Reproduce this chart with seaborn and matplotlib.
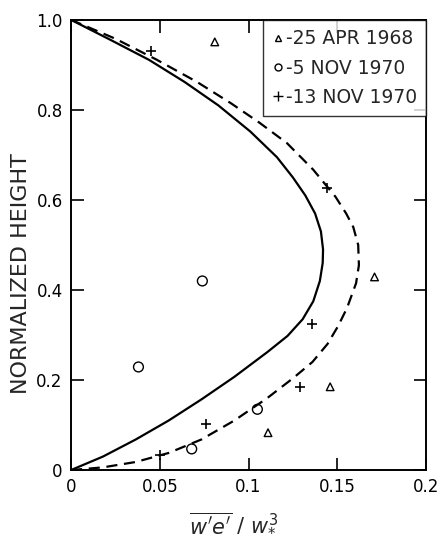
import matplotlib
matplotlib.use("Agg")
import matplotlib.pyplot as plt
from matplotlib.lines import Line2D
import seaborn as sns

# Solid curve (x = w'e'/w*^3, y = normalized height)
solid_x = [0, 0.018, 0.0365, 0.055, 0.0735, 0.092, 0.1106, 0.122, 0.1305, 0.1365,
           0.1402, 0.1418, 0.142, 0.1408, 0.1375, 0.132, 0.125, 0.116, 0.101,
           0.083, 0.064, 0.044, 0.022, 0]
solid_y = [0, 0.030, 0.068, 0.110, 0.157, 0.207, 0.262, 0.298, 0.335, 0.375,
           0.420, 0.460, 0.490, 0.530, 0.570, 0.610, 0.650, 0.695, 0.752,
           0.810, 0.862, 0.911, 0.956, 1.0]

# Dashed curve
dash_x = [0, 0.018, 0.0365, 0.055, 0.0735, 0.092, 0.1106, 0.1254, 0.136, 0.1445,
          0.1505, 0.1555, 0.1606, 0.1622, 0.1618, 0.159, 0.155, 0.149, 0.1365,
          0.1217, 0.106, 0.090, 0.071, 0.048, 0.025, 0]
dash_y = [0, 0.006, 0.018, 0.038, 0.068, 0.110, 0.160, 0.205, 0.240, 0.280,
          0.320, 0.360, 0.415, 0.455, 0.500, 0.540, 0.570, 0.607, 0.667,
          0.726, 0.772, 0.815, 0.862, 0.912, 0.958, 1.0]

# Observations
apr68_x = [0.081, 0.171, 0.146, 0.111]
apr68_y = [0.951, 0.429, 0.185, 0.083]
nov5_x = [0.038, 0.074, 0.105, 0.068]
nov5_y = [0.229, 0.420, 0.135, 0.047]
nov13_x = [0.045, 0.1444, 0.136, 0.129, 0.076, 0.050]
nov13_y = [0.930, 0.627, 0.325, 0.185, 0.102, 0.033]

labels = ["-25 APR 1968", "-5 NOV 1970", "-13 NOV 1970"]
xticks = [0, 0.05, 0.1, 0.15, 0.2]
xticklabels = ["0", "0.05", "0.1", "0.15", "0.2"]
yticks = [0, 0.2, 0.4, 0.6, 0.8, 1.0]
yticklabels = ["0", "0.2", "0.4", "0.6", "0.8", "1.0"]

sns.set_style("ticks")
plt.rcParams["font.family"] = ["DejaVu Sans"]
plt.rcParams["mathtext.fontset"] = "dejavusans"

fig = plt.figure(figsize=(4.41, 5.36), dpi=100)
ax = fig.add_axes([0.161, 0.123, 0.805, 0.840])

sns.lineplot(x=solid_x, y=solid_y, sort=False, estimator=None, color="black",
             linewidth=1.6, ax=ax)
sns.lineplot(x=dash_x, y=dash_y, sort=False, estimator=None, color="black",
             linewidth=1.6, ax=ax)
ax.lines[-1].set_dashes([5, 3])
for ln in ax.lines:
    ln.set_solid_joinstyle("round")
    ln.set_dash_joinstyle("round")

ax.scatter(apr68_x, apr68_y, marker="^", s=30, facecolors="none", edgecolors="black", linewidths=1.0)
ax.scatter(nov5_x, nov5_y, marker="o", s=50, facecolors="none", edgecolors="black", linewidths=1.0)
ax.scatter(nov13_x, nov13_y, marker="+", s=50, color="black", linewidths=1.2)

ax.set_xlim(0, 0.2)
ax.set_ylim(0, 1.0)
ax.set_xticks(xticks)
ax.set_xticklabels(xticklabels)
ax.set_yticks(yticks)
ax.set_yticklabels(yticklabels)
ax.tick_params(direction="in", length=9, width=1.2, top=True, right=True,
               labelsize=12, pad=6, colors="black")
for s in ax.spines.values():
    s.set_linewidth(1.4)
    s.set_color("black")

ax.set_ylabel("NORMALIZED HEIGHT", fontsize=16)
ax.yaxis.set_label_coords(-0.112, 0.436)
ax.set_xlabel(r"$\overline{w'e'}\ /\ w_{*}^{3}$", fontsize=15)
ax.xaxis.set_label_coords(0.458, -0.09)

handles = [
    Line2D([], [], marker="^", linestyle="none", markerfacecolor="none",
           markeredgecolor="black", markersize=5),
    Line2D([], [], marker="o", linestyle="none", markerfacecolor="none",
           markeredgecolor="black", markersize=5),
    Line2D([], [], marker="+", linestyle="none", color="black", markersize=7),
]
leg = ax.legend(handles, labels, loc="upper right", fontsize=13.5, frameon=True,
                fancybox=False, edgecolor="black", handlelength=0.6,
                handletextpad=0.1, borderpad=0.5, labelspacing=0.55,
                borderaxespad=0.0)
leg.get_frame().set_linewidth(1.0)

fig.savefig("out.png", dpi=100)
